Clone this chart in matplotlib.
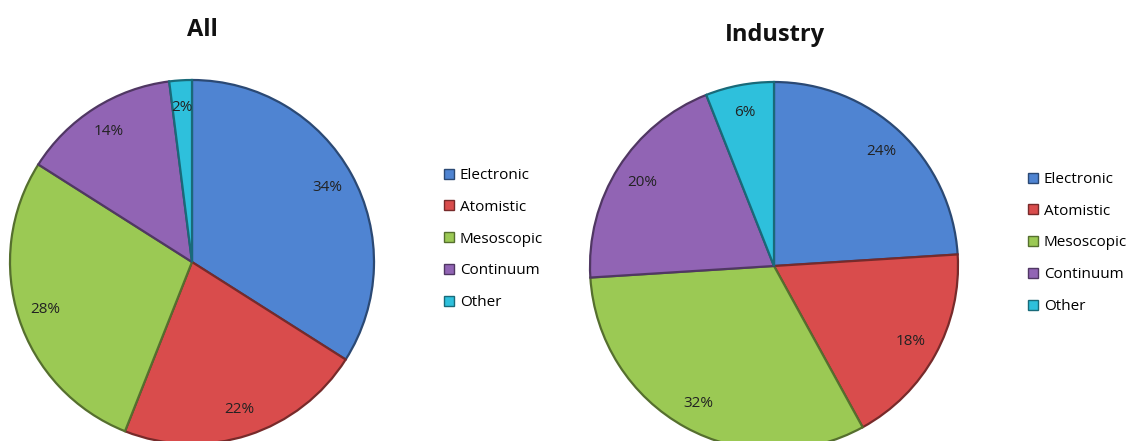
import matplotlib
matplotlib.use("Agg")
import matplotlib.pyplot as plt
from matplotlib.lines import Line2D
import matplotlib.colors as mcolors

categories = ["Electronic", "Atomistic", "Mesoscopic", "Continuum", "Other"]
all_values = [34, 22, 28, 14, 2]
industry_values = [24, 18, 32, 20, 6]
titles = ["All", "Industry"]

colors = ["#4F84D2", "#D94C4C", "#9BC954", "#9164B4", "#2EC0DC"]
edge_colors = [tuple(c * 0.55 for c in mcolors.to_rgb(col)) for col in colors]

W, H = 1131, 441
fig = plt.figure(figsize=(W / 100, H / 100), dpi=100)
plt.rcParams['font.family'] = ['Open Sans', 'DejaVu Sans']


def add_pie(values, cx, cy, r, title, tx, ty, leg_x, leg_y):
    ax = fig.add_axes([(cx - r) / W, (H - cy - r) / H, 2 * r / W, 2 * r / H])
    wedges, texts, autotexts = ax.pie(
        values, colors=colors, startangle=90, counterclock=False,
        autopct=lambda p: f"{p:.0f}%", pctdistance=0.85, radius=1,
        wedgeprops=dict(linewidth=1.6),
        textprops=dict(fontsize=11, color="#222222"))
    for w, ec in zip(wedges, edge_colors):
        w.set_edgecolor(ec)
    ax.set_xlim(-1, 1)
    ax.set_ylim(-1, 1)
    ax.set_aspect("equal")
    ax.axis("off")
    fig.text(tx / W, 1 - ty / H, title, fontsize=17, fontweight="bold",
             ha="center", va="center", color="#111111")
    handles = [Line2D([0], [0], marker="s", linestyle="none", markersize=7,
                      markerfacecolor=c, markeredgecolor=ec, markeredgewidth=1)
               for c, ec in zip(colors, edge_colors)]
    fig.legend(handles, categories, loc="center left",
               bbox_to_anchor=(leg_x / W, 1 - leg_y / H), frameon=False,
               fontsize=11, handlelength=0.8, handletextpad=0.3,
               labelspacing=1.1, borderaxespad=0, borderpad=0)


add_pie(all_values, 192, 262, 182, titles[0], 202, 30, 443, 239)
add_pie(industry_values, 774, 266, 184, titles[1], 775, 35, 1027, 243)

fig.savefig("out.png", dpi=100)
